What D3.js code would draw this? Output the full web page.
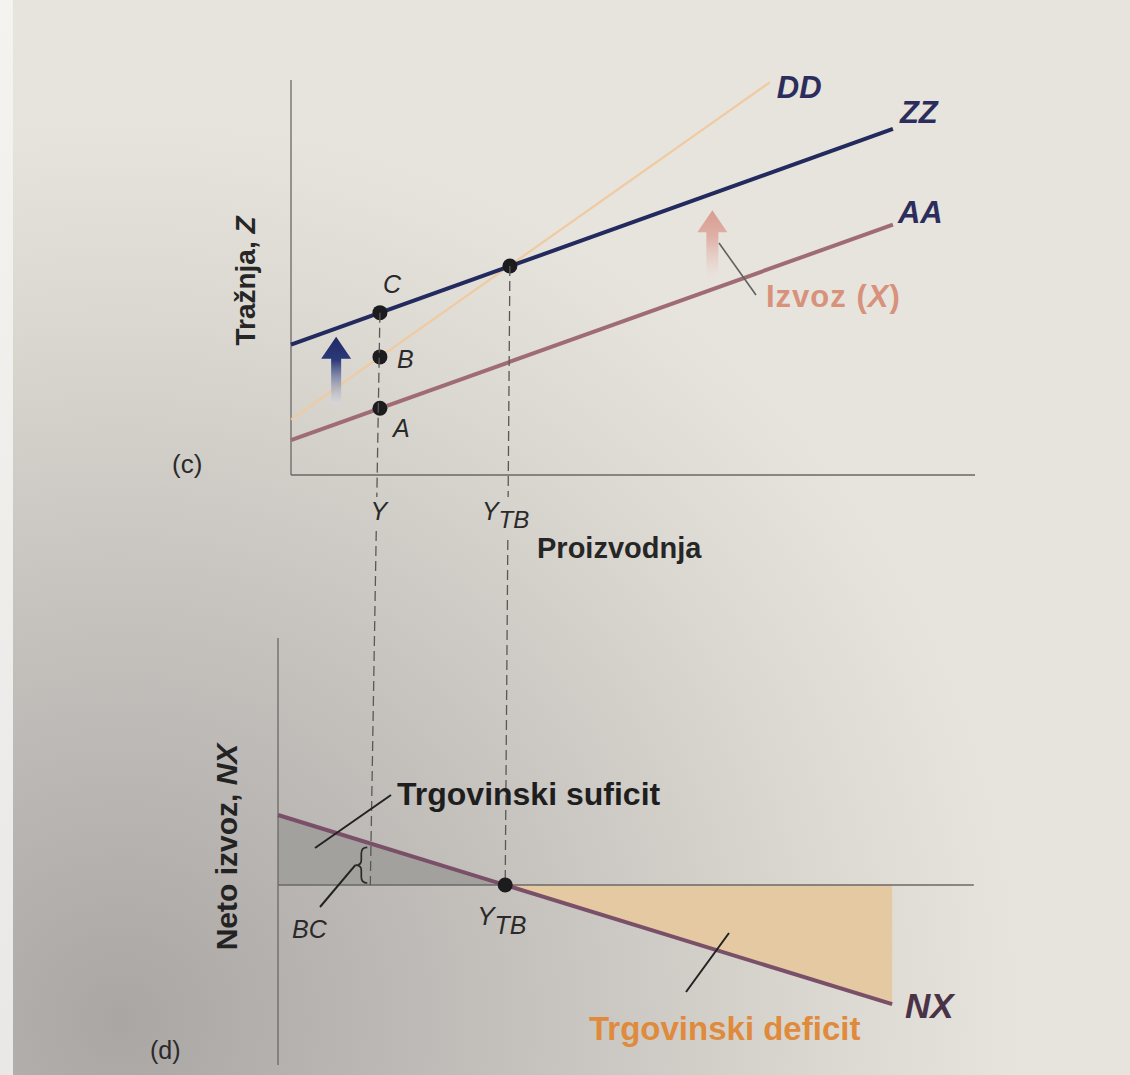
<!DOCTYPE html>
<html><head><meta charset="utf-8">
<script src="https://cdn.jsdelivr.net/npm/d3@7"></script>
<style>html,body{margin:0;padding:0;background:#e6e4de;}svg{display:block;}</style>
</head><body>
<svg id="chart" width="1130" height="1075"></svg>
<script>
// ---------- data ----------
const outputLevels = [{key: "Y", x: 1.3}, {key: "YTB", x: 3.2}];
const zzLine = [[0, 3.30], [8.8, 8.76]];
const ddLine = [[0, 1.40], [7.0, 9.94]];
const aaLine = [[0, 0.88], [8.8, 6.34]];
const topPoints = [
  {id: "C", x: 1.3, z: 4.11},
  {id: "B", x: 1.3, z: 2.99},
  {id: "A", x: 1.3, z: 1.69},
  {id: "E", x: 3.2, z: 5.29}
];
const exportShift = [{x: 0.66, from: 1.8, to: 3.5}]; // blue arrow (AA -> ZZ)
const exportArrow = [{x: 6.16, from: 5.0, to: 6.7}]; // pink "Izvoz (X)" arrow
const nxLine = [[0, 3.5], [8.65, -5.96]];
const nxBalance = [{x: 3.2, nx: 0}];
const topAxisMax = 10, topZMax = 10;
const botAxisMax = 9.8, botNxMax = 12.35, botNxMin = -9;

const F = "'Liberation Sans', Arial, Helvetica, sans-serif";
const svg = d3.select("#chart");

// background (photographed page)
const defs = svg.append("defs");
const bg = defs.append("radialGradient").attr("id", "bg").attr("gradientUnits", "userSpaceOnUse")
  .attr("cx", 120).attr("cy", 1020).attr("r", 900);
bg.append("stop").attr("offset", 0).attr("stop-color", "#aaa6a4");
bg.append("stop").attr("offset", 0.45).attr("stop-color", "#c5c1bd");
bg.append("stop").attr("offset", 0.8).attr("stop-color", "#dcd9d2");
bg.append("stop").attr("offset", 1).attr("stop-color", "#e6e4dd");
svg.append("rect").attr("width", 1130).attr("height", 1075).attr("fill", "url(#bg)");
const strip = defs.append("linearGradient").attr("id", "strip").attr("x1", 0).attr("y1", 0).attr("x2", 0).attr("y2", 1);
strip.append("stop").attr("offset", 0).attr("stop-color", "#f4f3f0");
strip.append("stop").attr("offset", 1).attr("stop-color", "#e9e8e6");
svg.append("rect").attr("width", 13).attr("height", 1075).attr("fill", "url(#strip)");

const gBlue = defs.append("linearGradient").attr("id", "gBlue").attr("x1", 0).attr("y1", 0).attr("x2", 0).attr("y2", 1);
gBlue.append("stop").attr("offset", 0).attr("stop-color", "#1f2a66");
gBlue.append("stop").attr("offset", 0.35).attr("stop-color", "#2c3a78");
gBlue.append("stop").attr("offset", 1).attr("stop-color", "#d8d9e2").attr("stop-opacity", 0.4);
const gPink = defs.append("linearGradient").attr("id", "gPink").attr("x1", 0).attr("y1", 0).attr("x2", 0).attr("y2", 1);
gPink.append("stop").attr("offset", 0).attr("stop-color", "#d89c90");
gPink.append("stop").attr("offset", 0.4).attr("stop-color", "#dfb0a6");
gPink.append("stop").attr("offset", 1).attr("stop-color", "#ece2de").attr("stop-opacity", 0.5);

// ---------- scales ----------
const xTop = d3.scaleLinear().domain([0, 10]).range([291, 975]);
const yTop = d3.scaleLinear().domain([0, 10]).range([475, 80]);
const xBot = d3.scaleLinear().domain([0, 10]).range([278, 988]);
const yBot = d3.scaleLinear().domain([-8, 8]).range([1045, 725]);

const lineTop = d3.line().x(d => xTop(d[0])).y(d => yTop(d[1]));
const lineBot = d3.line().x(d => xBot(d[0])).y(d => yBot(d[1]));

// ---------- top panel (c) ----------
const gTop = svg.append("g");
gTop.append("line").attr("x1", xTop(0)).attr("y1", yTop(topZMax)).attr("x2", xTop(0)).attr("y2", yTop(0))
  .attr("stroke", "#6a6866").attr("stroke-width", 1.3);
gTop.append("line").attr("x1", xTop(0)).attr("y1", yTop(0)).attr("x2", xTop(topAxisMax)).attr("y2", yTop(0))
  .attr("stroke", "#6a6866").attr("stroke-width", 1.3);

// dashed guide lines spanning both panels, with gaps for labels
function dashed(x1, y1, x2, y2, gaps) {
  const xAt = y => x1 + (x2 - x1) * (y - y1) / (y2 - y1);
  let segs = [], start = y1;
  gaps.forEach(g => { segs.push([start, g[0]]); start = g[1]; });
  segs.push([start, y2]);
  segs.forEach(s => {
    svg.append("line").attr("x1", xAt(s[0])).attr("y1", s[0]).attr("x2", xAt(s[1])).attr("y2", s[1])
      .attr("stroke", "#5a5856").attr("stroke-width", 1.3).attr("stroke-dasharray", "10,5");
  });
}

// ---------- bottom panel fills (drawn first so dashes sit on top) ----------
const gBot = svg.append("g");
const sur = [[0, 0], [nxLine[0][0], nxLine[0][1]], [nxBalance[0].x, 0]];
const defc = [[nxBalance[0].x, 0], [nxLine[1][0], nxLine[1][1]], [nxLine[1][0], 0]];
const area = d3.line().x(d => xBot(d[0])).y(d => yBot(d[1]));
gBot.append("path").attr("d", area(sur) + "Z").attr("fill", "#a3a19e");
gBot.append("path").attr("d", area(defc) + "Z").attr("fill", "#e4c9a2");

const pC = topPoints.find(p => p.id === "C"), pE = topPoints.find(p => p.id === "E");
dashed(xTop(outputLevels[0].x), yTop(pC.z), xBot(outputLevels[0].x), yBot(0), [[497, 531]]);
dashed(xTop(outputLevels[1].x), yTop(pE.z), xBot(outputLevels[1].x), yBot(0), [[497, 540]]);

// curves
gTop.append("path").datum(ddLine).attr("d", lineTop).attr("stroke", "#f0caa0").attr("stroke-width", 2.2).attr("fill", "none");
gTop.append("path").datum(aaLine).attr("d", lineTop).attr("stroke", "#a06c74").attr("stroke-width", 4).attr("fill", "none");
gTop.append("path").datum(zzLine).attr("d", lineTop).attr("stroke", "#232a5e").attr("stroke-width", 4).attr("fill", "none");

// arrows
function upArrow(g, x, yBase, yTip, fill, shaftW, headW, headH) {
  const p = d3.path();
  p.moveTo(x - shaftW / 2, yBase);
  p.lineTo(x - shaftW / 2, yTip + headH);
  p.lineTo(x - headW / 2, yTip + headH);
  p.lineTo(x, yTip);
  p.lineTo(x + headW / 2, yTip + headH);
  p.lineTo(x + shaftW / 2, yTip + headH);
  p.lineTo(x + shaftW / 2, yBase);
  p.closePath();
  g.append("path").attr("d", p.toString()).attr("fill", fill);
}
exportShift.forEach(a => upArrow(gTop, xTop(a.x), yTop(a.from), yTop(a.to), "url(#gBlue)", 10, 30, 22));
exportArrow.forEach(a => upArrow(gTop, xTop(a.x), yTop(a.from), yTop(a.to), "url(#gPink)", 12, 30, 22));
gTop.append("line").attr("x1", 719).attr("y1", 243).attr("x2", 756).attr("y2", 295).attr("stroke", "#5d6260").attr("stroke-width", 1.6);

// points
gTop.selectAll("circle.pt").data(topPoints).join("circle").attr("class", "pt")
  .attr("cx", d => xTop(d.x)).attr("cy", d => yTop(d.z)).attr("r", 7.5).attr("fill", "#1c1c1e");

// labels
const curveLab = [{t: "DD", d: ddLine, dx: 7, dy: 16}, {t: "ZZ", d: zzLine, dx: 7, dy: -6}, {t: "AA", d: aaLine, dx: 5, dy: -2}];
curveLab.forEach(c => {
  const e = c.d[c.d.length - 1];
  gTop.append("text").attr("x", xTop(e[0]) + c.dx).attr("y", yTop(e[1]) + c.dy)
    .attr("font-family", F).attr("font-weight", "bold").attr("font-style", "italic").attr("font-size", 31)
    .attr("fill", "#2c2d5c").text(c.t);
});
const ptOff = {C: [3, -20], B: [17, 11], A: [13, 29]};
topPoints.filter(p => ptOff[p.id]).forEach(p => {
  gTop.append("text").attr("x", xTop(p.x) + ptOff[p.id][0]).attr("y", yTop(p.z) + ptOff[p.id][1])
    .attr("font-family", F).attr("font-style", "italic").attr("font-size", 25).attr("fill", "#2a2a2a").text(p.id);
});
gTop.append("text").attr("x", xTop(outputLevels[0].x) - 1).attr("y", 520).attr("text-anchor", "middle")
  .attr("font-family", F).attr("font-style", "italic").attr("font-size", 25).attr("fill", "#2a2a2a").text("Y");
const ytb = gTop.append("text").attr("x", xTop(outputLevels[1].x) - 28).attr("y", 520)
  .attr("font-family", F).attr("font-style", "italic").attr("font-size", 25).attr("fill", "#2a2a2a");
ytb.append("tspan").text("Y");
ytb.append("tspan").attr("dy", 8).attr("font-size", 24).text("TB");

gTop.append("text").attr("x", 537).attr("y", 558).attr("font-family", F).attr("font-weight", "bold")
  .attr("font-size", 29).attr("fill", "#262626").text("Proizvodnja");
const tz = gTop.append("text").attr("transform", "translate(255,281) rotate(-90)").attr("text-anchor", "middle")
  .attr("font-family", F).attr("font-weight", "bold").attr("font-size", 28).attr("fill", "#262626");
tz.append("tspan").text("Tražnja, ");
tz.append("tspan").attr("font-style", "italic").text("Z");
gTop.append("text").attr("x", 172).attr("y", 473).attr("font-family", F).attr("font-size", 26).attr("fill", "#2a2a2a").text("(c)");
const iz = gTop.append("text").attr("x", 766).attr("y", 307).attr("font-family", F).attr("font-weight", "bold")
  .attr("font-size", 31).attr("letter-spacing", 1).attr("fill", "#d8927c");
iz.append("tspan").text("Izvoz (");
iz.append("tspan").attr("font-style", "italic").text("X");
iz.append("tspan").text(")");

// ---------- bottom panel (d) ----------
gBot.append("line").attr("x1", xBot(0)).attr("y1", yBot(botNxMax)).attr("x2", xBot(0)).attr("y2", yBot(botNxMin))
  .attr("stroke", "#6a6866").attr("stroke-width", 1.3);
gBot.append("line").attr("x1", xBot(0)).attr("y1", yBot(0)).attr("x2", xBot(botAxisMax)).attr("y2", yBot(0))
  .attr("stroke", "#6a6866").attr("stroke-width", 1.3);

const gBot2 = svg.append("g");
gBot2.append("path").datum(nxLine).attr("d", lineBot).attr("stroke", "#7a5069").attr("stroke-width", 4).attr("fill", "none");
gBot2.selectAll("circle.nx").data(nxBalance).join("circle").attr("class", "nx")
  .attr("cx", d => xBot(d.x)).attr("cy", d => yBot(d.nx)).attr("r", 7.5).attr("fill", "#1c1c1e");

// brace between NX line and zero at Y
const yx = outputLevels[0].x;
const nxAtY = nxLine[0][1] + (nxLine[1][1] - nxLine[0][1]) * (yx - nxLine[0][0]) / (nxLine[1][0] - nxLine[0][0]);
const bx = xBot(yx) - 10, bT = yBot(nxAtY) + 4, bB = yBot(0) - 2, bM = (bT + bB) / 2;
const br = d3.path();
br.moveTo(bx + 7, bT);
br.quadraticCurveTo(bx + 1, bT, bx + 1, bT + 6);
br.lineTo(bx + 1, bM - 5);
br.quadraticCurveTo(bx + 1, bM, bx - 5, bM);
br.quadraticCurveTo(bx + 1, bM, bx + 1, bM + 5);
br.lineTo(bx + 1, bB - 6);
br.quadraticCurveTo(bx + 1, bB, bx + 7, bB);
gBot2.append("path").attr("d", br.toString()).attr("fill", "none").attr("stroke", "#2a2a2a").attr("stroke-width", 1.7);

gBot2.append("line").attr("x1", 391).attr("y1", 795).attr("x2", 315).attr("y2", 848).attr("stroke", "#222").attr("stroke-width", 2);
gBot2.append("line").attr("x1", 320).attr("y1", 907).attr("x2", bx - 5).attr("y2", bM).attr("stroke", "#222").attr("stroke-width", 2);
gBot2.append("line").attr("x1", 729).attr("y1", 933).attr("x2", 686).attr("y2", 992).attr("stroke", "#222").attr("stroke-width", 2);

gBot2.append("text").attr("x", 397).attr("y", 805).attr("font-family", F).attr("font-weight", "bold")
  .attr("font-size", 32).attr("fill", "#1e1e1e").text("Trgovinski suficit");
gBot2.append("text").attr("x", 292).attr("y", 938).attr("font-family", F).attr("font-style", "italic")
  .attr("font-size", 25).attr("fill", "#2a2a2a").text("BC");
const ytb2 = gBot2.append("text").attr("x", xBot(nxBalance[0].x) - 28).attr("y", 925)
  .attr("font-family", F).attr("font-style", "italic").attr("font-size", 26).attr("fill", "#2a2a2a");
ytb2.append("tspan").text("Y");
ytb2.append("tspan").attr("dy", 9).attr("font-size", 25).text("TB");
gBot2.append("text").attr("x", 905).attr("y", 1018).attr("font-family", F).attr("font-weight", "bold").attr("font-style", "italic")
  .attr("font-size", 35).attr("fill", "#4a3346").text("NX");
gBot2.append("text").attr("x", 589).attr("y", 1040).attr("font-family", F).attr("font-weight", "bold")
  .attr("font-size", 33).attr("fill", "#e08a3c").text("Trgovinski deficit");
const nl = gBot2.append("text").attr("transform", "translate(237,847) rotate(-90)").attr("text-anchor", "middle")
  .attr("font-family", F).attr("font-weight", "bold").attr("font-size", 30).attr("fill", "#232323");
nl.append("tspan").text("Neto izvoz, ");
nl.append("tspan").attr("font-style", "italic").text("NX");
gBot2.append("text").attr("x", 150).attr("y", 1059).attr("font-family", F).attr("font-size", 25).attr("fill", "#2a2a2a").text("(d)");
</script>
</body></html>
